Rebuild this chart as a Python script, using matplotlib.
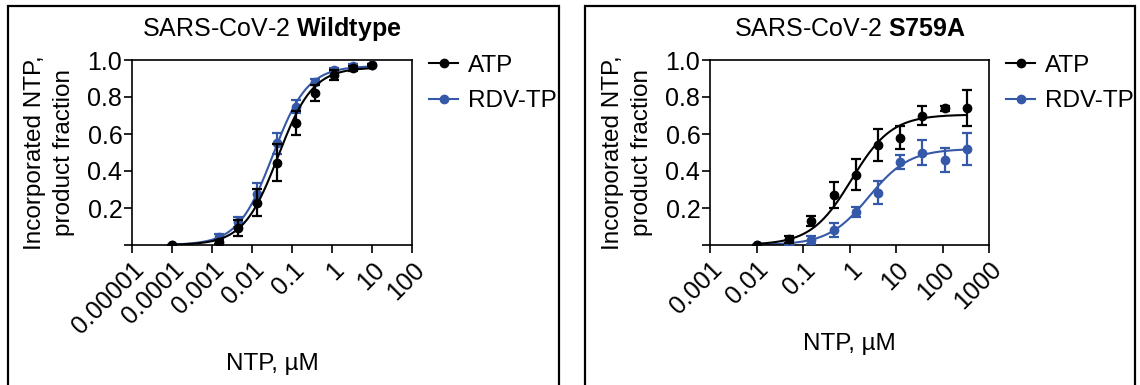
import matplotlib
matplotlib.use("Agg")
import matplotlib.pyplot as plt
import numpy as np
from matplotlib.patches import Rectangle
from matplotlib.lines import Line2D

plt.rcParams['font.family'] = ['Liberation Sans', 'DejaVu Sans']
plt.rcParams['mathtext.fontset'] = 'custom'
plt.rcParams['mathtext.rm'] = 'Liberation Sans'
plt.rcParams['mathtext.bf'] = 'Liberation Sans:bold'

BLACK = '#000000'
BLUE = '#3559a8'

# ---------------- Wildtype panel data ----------------
wt_conc = [0.0001, 0.00152, 0.00457, 0.0137, 0.0412, 0.123, 0.370, 1.11, 3.33, 10.0]
wt_atp = [0.0, 0.016, 0.092, 0.229, 0.444, 0.660, 0.823, 0.919, 0.955, 0.973]
wt_atp_err = [0.0, 0.01, 0.043, 0.072, 0.10, 0.063, 0.042, 0.025, 0.012, 0.008]
wt_rdv = [0.0, 0.043, 0.125, 0.278, 0.55, 0.747, 0.883, 0.946, 0.968, 0.973]
wt_rdv_err = [0.0, 0.015, 0.025, 0.055, 0.057, 0.035, 0.015, 0.01, 0.008, 0.006]
wt_fit_atp = dict(top=0.96, ec50=0.045, hill=1.0)
wt_fit_rdv = dict(top=0.968, ec50=0.033, hill=1.0)
wt_xticks = [1e-5, 1e-4, 1e-3, 1e-2, 1e-1, 1, 10, 100]
wt_xticklabels = ['0.00001', '0.0001', '0.001', '0.01', '0.1', '1', '10', '100']

# ---------------- S759A panel data ----------------
mu_conc = [0.01, 0.0508, 0.152, 0.457, 1.37, 4.12, 12.3, 37.0, 111.0, 333.0]
mu_atp = [0.0, 0.03, 0.13, 0.27, 0.38, 0.54, 0.58, 0.70, 0.74, 0.74]
mu_atp_err = [0.0, 0.02, 0.027, 0.07, 0.085, 0.086, 0.063, 0.054, 0.013, 0.096]
mu_rdv = [0.0, 0.003, 0.027, 0.081, 0.178, 0.282, 0.449, 0.50, 0.462, 0.52]
mu_rdv_err = [0.0, 0.005, 0.02, 0.04, 0.027, 0.063, 0.036, 0.069, 0.065, 0.085]
mu_fit_atp = dict(top=0.705, ec50=1.1, hill=1.0)
mu_fit_rdv = dict(top=0.52, ec50=2.6, hill=1.0)
mu_xticks = [1e-3, 1e-2, 1e-1, 1, 10, 100, 1000]
mu_xticklabels = ['0.001', '0.01', '0.1', '1', '10', '100', '1000']

yticks = [0.0, 0.2, 0.4, 0.6, 0.8, 1.0]
yticklabels = ['', '0.2', '0.4', '0.6', '0.8', '1.0']


def hill(x, top, ec50, hill):
    return top * x ** hill / (x ** hill + ec50 ** hill)


W, H = 1140, 385
fig = plt.figure(figsize=(W / 100, H / 100), dpi=100)

# panel frames
for x0, x1 in [(8, 559), (585, 1135)]:
    fig.patches.append(Rectangle((x0 / W, -0.05), (x1 - x0) / W, (H - 6) / H + 0.05,
                                 transform=fig.transFigure, fill=False,
                                 edgecolor='black', linewidth=1.6))


def panel(rect, conc, atp, atp_err, rdv, rdv_err, fit_atp, fit_rdv, xticks, xticklabels,
          xlim, name):
    ax = fig.add_axes(rect)
    xs = np.logspace(np.log10(conc[0]), np.log10(conc[-1]), 300)
    ax.plot(xs, hill(xs, **fit_rdv), color=BLUE, lw=1.5, zorder=2)
    ax.errorbar(conc, rdv, yerr=rdv_err, fmt='o', color=BLUE, ms=6, capsize=3.8,
                elinewidth=1.6, capthick=1.6, zorder=3)
    ax.plot(xs, hill(xs, **fit_atp), color=BLACK, lw=1.5, zorder=4)
    ax.errorbar(conc, atp, yerr=atp_err, fmt='o', color=BLACK, ms=6, capsize=3.8,
                elinewidth=1.6, capthick=1.6, zorder=5)
    ax.set_xscale('log')
    ax.set_xlim(*xlim)
    ax.set_ylim(0, 1.0)
    ax.xaxis.set_minor_locator(matplotlib.ticker.NullLocator())
    ax.set_xticks(xticks)
    ax.set_xticklabels(xticklabels, rotation=45, ha='right', va='top',
                       rotation_mode='anchor', fontsize=18)
    ax.set_yticks(yticks)
    ax.set_yticklabels(yticklabels, fontsize=18)
    ax.tick_params(axis='x', length=6, width=1.2, pad=3)
    ax.tick_params(axis='y', length=6, width=1.2, pad=1)
    for s in ax.spines.values():
        s.set_linewidth(1.2)
    ax.set_ylabel('Incorporated NTP,\nproduct fraction', fontsize=17.5, labelpad=9,
                  linespacing=1.4)
    ax.set_xlabel('NTP, µM', fontsize=17.5, labelpad=10)
    ax.set_title('SARS-CoV-2 $\\bf{' + name + '}$', fontsize=18, pad=17)
    h1 = Line2D([], [], color=BLACK, marker='o', ms=6, lw=1.5)
    h2 = Line2D([], [], color=BLUE, marker='o', ms=6, lw=1.5)
    ax.legend([h1, h2], ['ATP', 'RDV-TP'], loc='upper left', bbox_to_anchor=(1.0, 1.12),
              frameon=False, fontsize=17.5, handlelength=1.2, handletextpad=0.4,
              labelspacing=0.55, borderaxespad=0.3)
    return ax


panel([132 / W, 1 - 245 / H, 280 / W, 185 / H], wt_conc, wt_atp, wt_atp_err, wt_rdv,
      wt_rdv_err, wt_fit_atp, wt_fit_rdv, wt_xticks, wt_xticklabels, (1e-5, 100), 'Wildtype')
panel([710 / W, 1 - 245 / H, 279 / W, 185 / H], mu_conc, mu_atp, mu_atp_err, mu_rdv,
      mu_rdv_err, mu_fit_atp, mu_fit_rdv, mu_xticks, mu_xticklabels, (1e-3, 1000), 'S759A')

fig.savefig('out.png', dpi=100)
